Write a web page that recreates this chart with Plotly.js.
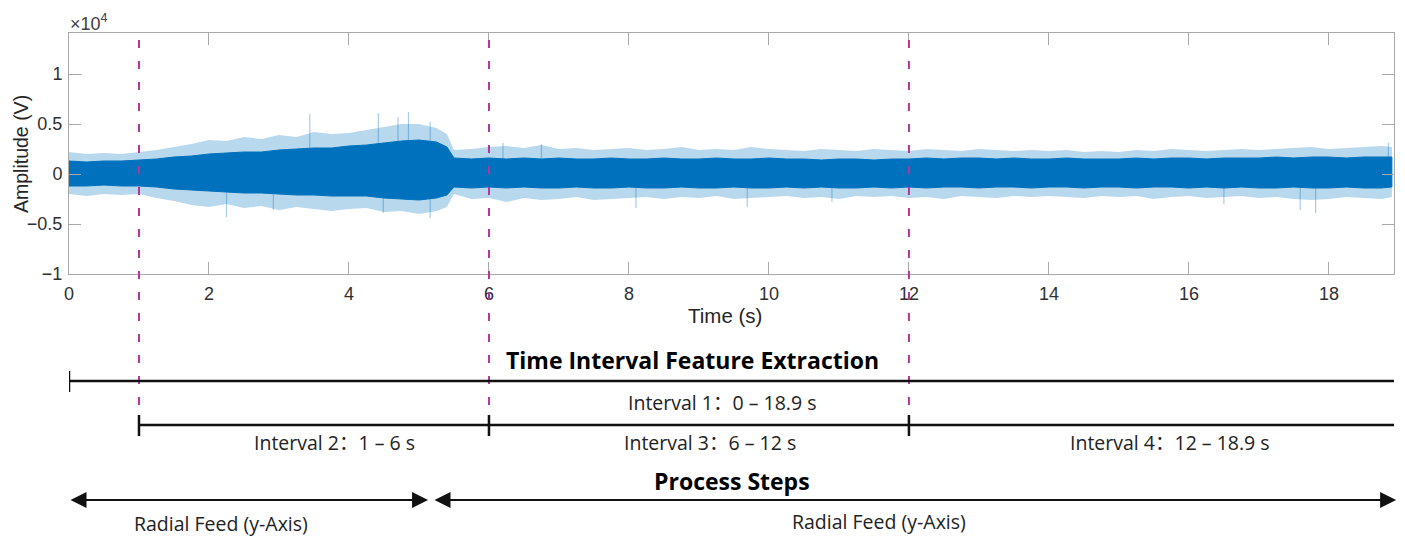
<!DOCTYPE html>
<html><head><meta charset="utf-8">
<script src="https://cdn.plot.ly/plotly-3.0.1.min.js"></script>
<style>html,body{margin:0;padding:0;background:#fff}#chart{width:1405px;height:538px}</style>
</head><body><div id="chart"></div>
<script>
const t = [0,0.25,0.5,0.75,1,1.25,1.5,1.75,2,2.25,2.5,2.75,3,3.25,3.5,3.75,4,4.25,4.5,4.75,5,5.25,5.4,
  5.5,5.75,6,6.25,6.5,6.75,7,7.25,7.5,7.75,8,8.25,8.5,8.75,9,9.25,9.5,9.75,10,10.25,10.5,10.75,11,11.25,11.5,11.75,
  12,12.25,12.5,12.75,13,13.25,13.5,13.75,14,14.25,14.5,14.75,15,15.25,15.5,15.75,16,16.25,16.5,16.75,17,17.25,17.5,17.75,
  18,18.25,18.5,18.75,18.9];
// Amplitude (x10^4 V): outer (sparse spikes) envelope
const outerUp = [0.22,0.2,0.21,0.2,0.22,0.24,0.27,0.3,0.34,0.33,0.37,0.35,0.39,0.37,0.42,0.4,0.41,0.44,0.47,0.5,0.5,0.46,0.4,
  0.24,0.25,0.27,0.28,0.26,0.29,0.25,0.26,0.24,0.25,0.26,0.24,0.25,0.27,0.24,0.25,0.24,0.27,0.25,0.24,0.23,0.25,0.24,0.23,0.25,0.24,
  0.23,0.25,0.24,0.23,0.25,0.24,0.23,0.24,0.23,0.24,0.22,0.23,0.22,0.24,0.23,0.25,0.24,0.23,0.24,0.25,0.24,0.25,0.26,0.27,
  0.25,0.26,0.27,0.28,0.27];
const outerLo = [-0.2,-0.22,-0.2,-0.21,-0.2,-0.24,-0.27,-0.31,-0.33,-0.3,-0.34,-0.32,-0.36,-0.33,-0.35,-0.37,-0.35,-0.34,-0.38,-0.37,-0.4,-0.37,-0.33,
  -0.2,-0.25,-0.24,-0.28,-0.24,-0.26,-0.25,-0.23,-0.26,-0.25,-0.24,-0.23,-0.25,-0.23,-0.24,-0.22,-0.25,-0.24,-0.23,-0.22,-0.24,-0.23,-0.25,-0.22,-0.23,-0.22,
  -0.24,-0.23,-0.25,-0.22,-0.23,-0.24,-0.22,-0.23,-0.22,-0.23,-0.24,-0.22,-0.23,-0.22,-0.25,-0.23,-0.22,-0.24,-0.23,-0.22,-0.24,-0.23,-0.25,-0.26,
  -0.25,-0.23,-0.24,-0.25,-0.23];
// Amplitude (x10^4 V): dense core envelope
const coreUp = [0.13,0.12,0.13,0.13,0.14,0.15,0.17,0.18,0.2,0.21,0.22,0.22,0.24,0.25,0.26,0.26,0.28,0.29,0.31,0.33,0.34,0.32,0.27,
  0.16,0.15,0.16,0.15,0.16,0.15,0.16,0.15,0.15,0.16,0.15,0.15,0.16,0.15,0.15,0.16,0.15,0.15,0.16,0.15,0.15,0.14,0.15,0.15,0.14,0.15,
  0.15,0.16,0.15,0.16,0.16,0.15,0.16,0.15,0.15,0.16,0.15,0.15,0.15,0.16,0.15,0.16,0.16,0.15,0.16,0.16,0.16,0.17,0.16,0.17,
  0.17,0.16,0.17,0.17,0.17];
const coreLo = [-0.12,-0.12,-0.11,-0.12,-0.12,-0.13,-0.15,-0.16,-0.17,-0.18,-0.19,-0.19,-0.2,-0.21,-0.21,-0.22,-0.22,-0.22,-0.24,-0.25,-0.26,-0.24,-0.21,
  -0.13,-0.14,-0.13,-0.14,-0.13,-0.14,-0.14,-0.13,-0.14,-0.14,-0.13,-0.14,-0.14,-0.13,-0.14,-0.14,-0.13,-0.14,-0.14,-0.13,-0.14,-0.13,-0.14,-0.14,-0.13,-0.14,
  -0.13,-0.14,-0.13,-0.13,-0.14,-0.13,-0.13,-0.14,-0.13,-0.13,-0.14,-0.13,-0.13,-0.14,-0.13,-0.13,-0.14,-0.13,-0.14,-0.13,-0.14,-0.14,-0.13,-0.14,
  -0.14,-0.13,-0.14,-0.14,-0.13];
// Individual large spikes
const spikeT = [2.25,2.92,3.44,4.42,4.49,4.7,4.85,5.16,5.16,6.2,6.75,8.1,9.69,10.9,16.5,17.59,17.81,18.85];
const spikeV = [-0.43,-0.36,0.6,0.61,-0.39,0.57,0.62,0.52,-0.44,0.31,0.3,-0.34,-0.33,-0.28,-0.3,-0.36,-0.39,0.31];

const xTicks = [0,2,4,6,8,10,12,14,16,18];
const xTickText = ['0','2','4','6','8','10','12','14','16','18'];
const yTicks = [-1,-0.5,0,0.5,1];
const yTickText = ['\u22121','\u22120.5','0','0.5','1'];

// Interval boundaries (s)
const boundaries = [1,6,12];
const interval1 = [0,18.95];
const interval2to4 = [1,6,12,18.95];
const intervalLabels = ['Interval 1\uFF1A0 \u2013 18.9 s','Interval 2\uFF1A1 \u2013 6 s','Interval 3\uFF1A6 \u2013 12 s','Interval 4\uFF1A12 \u2013 18.9 s'];
const stepArrows = [[0,5.13],[5.2,18.96]];
const stepLabels = ['Radial Feed (y-Axis)','Radial Feed (y-Axis)'];

// ---- layout geometry (pixels) ----
const W = 1405, H = 538, M = {l:69, r:11, t:33, b:264};
const plotBottom = H - M.b, plotH = H - M.t - M.b, plotW = W - M.l - M.r;
const py = px => (plotBottom - px) / plotH;
const pxX = px => (px - M.l) / plotW;
const dataX = px => (px - M.l) / plotW * 18.93;

const blue = '#0072BD';
const traces = [
  {x: t.concat(t.slice().reverse()), y: outerUp.concat(outerLo.slice().reverse()),
   type:'scatter', mode:'lines', fill:'toself', fillcolor:'rgba(0,114,189,0.28)', line:{width:0}, hoverinfo:'skip'},
  {x: spikeT.flatMap(v=>[v,v,null]), y: spikeV.flatMap(v=>[0,v,null]),
   type:'scatter', mode:'lines', line:{color:'rgba(0,114,189,0.35)', width:1.2}, hoverinfo:'skip'},
  {x: t.concat(t.slice().reverse()), y: coreUp.concat(coreLo.slice().reverse()),
   type:'scatter', mode:'lines', fill:'toself', fillcolor:blue, line:{color:blue, width:1}, hoverinfo:'skip'}
];

const shapes = [];
boundaries.forEach(b => shapes.push({type:'line', xref:'x', yref:'paper', x0:b, x1:b, y0:py(40), y1:py(425),
  line:{color:'#b8349c', width:2, dash:'8px,13px'}}));
const barLine = {color:'#111', width:2.5};
shapes.push({type:'line', xref:'x', yref:'paper', x0:interval1[0], x1:interval1[1], y0:py(381), y1:py(381), line:barLine});
interval1.forEach(v => shapes.push({type:'line', xref:'x', yref:'paper', x0:v, x1:v, y0:py(371), y1:py(392), line:barLine}));
shapes.push({type:'line', xref:'x', yref:'paper', x0:interval2to4[0], x1:interval2to4[3], y0:py(425), y1:py(425), line:barLine});
interval2to4.forEach(v => shapes.push({type:'line', xref:'x', yref:'paper', x0:v, x1:v, y0:py(415), y1:py(436), line:barLine}));

const txtFont = {family:'"Open Sans", "Noto Sans CJK SC", sans-serif', size:19.5, color:'#222'};
const boldFont = {family:'"Open Sans", sans-serif', size:23, color:'#000'};
const mat = 'Liberation Sans, Arial, sans-serif';
const A = (o) => Object.assign({showarrow:false, xanchor:'center', yanchor:'middle'}, o);
const annotations = [
  A({xref:'paper', yref:'paper', x:pxX(68), y:py(23), xanchor:'left',
   text:'\u00D710<sup>4</sup>', font:{family:mat, size:18, color:'#404040'}}),
  A({xref:'paper', yref:'paper', x:pxX(21), y:py(154), textangle:-90,
   text:'Amplitude (V)', font:{family:mat, size:19.5, color:'#262626'}}),
  A({xref:'paper', yref:'paper', x:pxX(725), y:py(315),
   text:'Time (s)', font:{family:mat, size:20.5, color:'#262626'}}),
  A({xref:'x', yref:'paper', x:dataX(692), y:py(360), text:'<b>Time Interval Feature Extraction</b>', font:boldFont}),
  A({xref:'x', yref:'paper', x:dataX(722), y:py(403), text:intervalLabels[0], font:txtFont}),
  A({xref:'x', yref:'paper', x:dataX(334), y:py(442), text:intervalLabels[1], font:txtFont}),
  A({xref:'x', yref:'paper', x:dataX(710), y:py(442), text:intervalLabels[2], font:txtFont}),
  A({xref:'x', yref:'paper', x:dataX(1170), y:py(442), text:intervalLabels[3], font:txtFont}),
  A({xref:'x', yref:'paper', x:dataX(732), y:py(481), text:'<b>Process Steps</b>', font:boldFont}),
  A({xref:'x', yref:'paper', x:dataX(221), y:py(523), text:stepLabels[0], font:txtFont}),
  A({xref:'x', yref:'paper', x:dataX(879), y:py(521), text:stepLabels[1], font:txtFont})
];
stepArrows.forEach(a => annotations.push({xref:'x', yref:'paper', x:a[1], y:py(500), axref:'x', ayref:'pixel', ax:a[0], ay:0,
  text:'', showarrow:true, arrowside:'end+start', arrowhead:2, startarrowhead:2, arrowsize:1.6, startarrowsize:1.6,
  arrowwidth:2, arrowcolor:'#111', standoff:0, startstandoff:0}));

const axCommon = {showline:true, linecolor:'#a8a8a8', linewidth:1, mirror:'ticks', ticks:'inside', ticklen:12,
  tickcolor:'#a8a8a8', tickwidth:1, showgrid:false, zeroline:false, fixedrange:true,
  tickfont:{family:mat, size:18, color:'#303030'}};

const layout = {
  width:W, height:H, margin:{l:M.l, r:M.r, t:M.t, b:M.b, pad:0},
  paper_bgcolor:'#fff', plot_bgcolor:'#fff', showlegend:false,
  xaxis: Object.assign({}, axCommon, {range:[0,18.93], tickvals:xTicks, ticktext:xTickText, ticklabelstandoff:3}),
  yaxis: Object.assign({}, axCommon, {range:[-1,1.41], tickvals:yTicks, ticktext:yTickText, ticklabelstandoff:2}),
  shapes:shapes, annotations:annotations
};
Plotly.newPlot('chart', traces, layout, {staticPlot:true, displayModeBar:false});
</script></body></html>
